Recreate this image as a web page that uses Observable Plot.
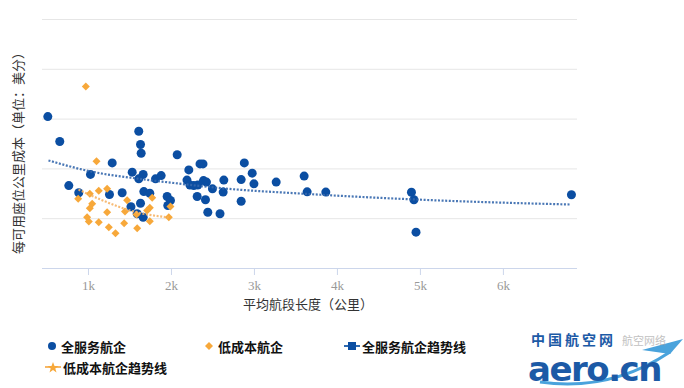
<!DOCTYPE html>
<html><head><meta charset="utf-8">
<script src="https://cdn.jsdelivr.net/npm/d3@7"></script>
<script src="https://cdn.jsdelivr.net/npm/@observablehq/plot@0.6"></script>
<style>
body{margin:0;background:#fff;}
#wrap{position:relative;width:684px;height:388px;overflow:hidden;font-family:"Noto Sans CJK SC",sans-serif;background:#fff;}
#chart{position:absolute;left:0;top:0;}
#chart svg g[aria-label="x-axis tick label"] text, #chart svg g[aria-label="x-axis tick label"]{font-family:"Liberation Serif","DejaVu Serif",serif !important;}
.ylab{position:absolute;left:17px;top:150px;transform:translate(-50%,-50%) rotate(-90deg);white-space:nowrap;font-size:13px;color:#333;}
.xlab{position:absolute;left:308px;top:303px;transform:translate(-50%,-50%);white-space:nowrap;font-size:13px;color:#333;}
.leg{position:absolute;height:18px;font-size:13px;font-weight:bold;color:#111;white-space:nowrap;display:flex;align-items:center;}
.leg svg{margin-right:2px;}
.logo1{position:absolute;left:531px;top:332px;font-size:14px;line-height:14px;font-weight:bold;color:#1c5aa6;letter-spacing:3px;white-space:nowrap;}
.logo2{position:absolute;left:528px;top:351px;font-family:"DejaVu Sans",sans-serif;font-size:34px;line-height:37px;height:37px;font-weight:bold;color:#1c5aa6;letter-spacing:-1.5px;white-space:nowrap;}
.wm{position:absolute;left:622px;top:335px;font-size:11px;line-height:11px;color:#999;opacity:0.6;white-space:nowrap;}
</style></head>
<body>
<div id="wrap">
<div id="chart"></div>
<div class="ylab">每可用座位公里成本（单位：美分）</div>
<div class="xlab">平均航段长度（公里）</div>
<div class="leg" style="left:47px;top:337px;"><svg width="12" height="12"><circle cx="5" cy="6" r="4" fill="#0b4ea2"/></svg>全服务航企</div>
<div class="leg" style="left:204px;top:337px;"><svg width="12" height="12"><path d="M5 2 L9 6 L5 10 L1 6 Z" fill="#f7a83a"/></svg>低成本航企</div>
<div class="leg" style="left:344px;top:337px;"><svg width="16" height="12"><line x1="0" y1="6" x2="16" y2="6" stroke="#2f6ab0" stroke-width="2"/><rect x="4" y="2" width="8" height="8" fill="#0b4ea2"/></svg>全服务航企趋势线</div>
<div class="leg" style="left:45px;top:358px;"><svg width="16" height="12"><line x1="0" y1="6" x2="16" y2="6" stroke="#f7b866" stroke-width="2"/><path d="M8 1 L9.5 5 L13.5 5 L10.3 7.5 L11.5 11.5 L8 9 L4.5 11.5 L5.7 7.5 L2.5 5 L6.5 5 Z" fill="#f7a83a"/></svg>低成本航企趋势线</div>
<svg style="position:absolute;left:520px;top:330px;" width="164" height="58"><path d="M20 52 Q90 62 150 22" fill="none" stroke="#4aa3dc" stroke-width="3"/><path d="M122 20 L163 9 L150 24 Z" fill="#4aa3dc"/></svg>
<div class="logo1">中国航空网</div>
<div class="logo2">aero.cn</div>
<div class="wm">航空网络</div>
</div>
<script>
// Full-service carriers: average stage length (km), cost per ASK
const fullX = [510,654,763,883,1024,1253,1286,1406,1512,1527,1587,1606,1627,1635,1659,1606,1667,1739,1627,1659,1808,1876,1948,1988,1956,2069,2187,2209,2223,2269,2317,2310,2344,2380,2386,2422,2410,2438,2494,2585,2623,2631,2840,2878,2840,2973,2994,3262,3599,3635,3860,4892,4922,4947,6820];
const fullY = [6.10,5.10,3.33,3.04,3.78,2.97,4.24,3.04,2.48,3.87,2.20,5.51,4.98,4.63,3.78,3.60,3.09,3.02,2.62,2.06,3.60,3.73,2.89,2.73,2.53,4.57,3.55,3.96,3.35,3.33,3.35,2.89,4.20,4.20,3.53,3.47,2.76,2.26,3.20,2.20,3.07,3.55,3.57,4.24,2.70,3.83,3.40,3.47,3.71,3.08,3.07,3.06,2.76,1.46,2.96];
// Low-cost carriers
const lccX = [968,1097,1225,1124,1016,876,1466,1045,1016,1225,1440,984,1004,1124,1430,1245,1326,1587,1768,1988,1739,1707,1579,1968,1739];
const lccY = [7.31,4.31,3.20,3.12,3.00,2.80,2.74,2.60,2.42,2.26,2.29,2.06,1.89,1.86,1.82,1.66,1.42,1.62,2.84,2.49,2.44,2.33,2.17,2.06,1.90];
// Trend lines
const fullTrendX = [518,1024,1591,1988,2651,3555,5242,6808];
const fullTrendY = [4.34,3.90,3.61,3.45,3.21,3.01,2.73,2.57];
const lccTrendX = [880,1145,1542,1964];
const lccTrendY = [3.17,2.77,2.29,2.05];
// Axis ticks
const xTicks = [1000,2000,3000,4000,5000,6000];
const xTickLabels = ["1k","2k","3k","4k","5k","6k"];
const yGrid = [0,2,4,6,8,10];

const full = fullX.map((x,i)=>({x, y: fullY[i]}));
const lcc = lccX.map((x,i)=>({x, y: lccY[i]}));
const fullTrend = fullTrendX.map((x,i)=>({x, y: fullTrendY[i]}));
const lccTrend = lccTrendX.map((x,i)=>({x, y: lccTrendY[i]}));

const chart = Plot.plot({
  width: 684, height: 315,
  marginTop: 19, marginBottom: 47, marginLeft: 42, marginRight: 107,
  x: {domain: [446, 6893]},
  y: {domain: [0, 10], axis: null},
  style: {background: "transparent", overflow: "visible"},
  marks: [
    Plot.gridY(yGrid, {stroke: "#e6e6e6", strokeOpacity: 1}),
    Plot.ruleY([0], {stroke: "#ccd6eb"}),
    Plot.axisX(xTicks, {tickFormat: d => xTickLabels[xTicks.indexOf(d)], tickSize: 7, tickPadding: 5, stroke: "#ccd6eb", fill: "#999", fontSize: 13, fontFamily: "Liberation Serif", label: null}),
    Plot.dot(full, {x: "x", y: "y", r: 4.5, fill: "#0b4ea2"}),
    Plot.dot(lcc, {x: "x", y: "y", r: 3.6, symbol: "diamond2", fill: "#f7a83a"}),
    Plot.line(fullTrend, {x: "x", y: "y", curve: "monotone-x", stroke: "#3568ad", strokeWidth: 2.2, strokeDasharray: "2,1.6", strokeLinecap: "butt", strokeOpacity: 0.9}),
    Plot.line(lccTrend, {x: "x", y: "y", curve: "monotone-x", stroke: "#f6b466", strokeWidth: 2.2, strokeDasharray: "2,1.6", strokeLinecap: "butt", strokeOpacity: 0.9})
  ]
});
document.getElementById("chart").appendChild(chart);
</script>
</body></html>
